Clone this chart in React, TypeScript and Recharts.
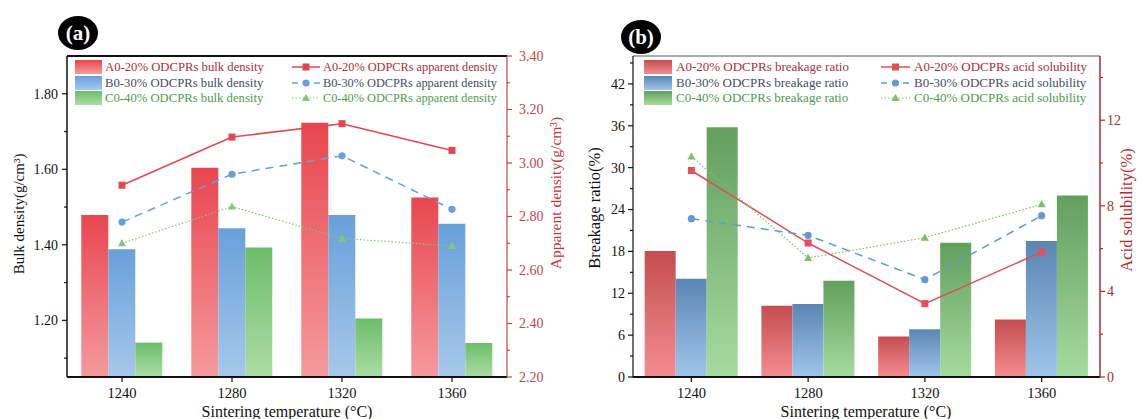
import React from 'react'
import { Bar, ComposedChart, Legend, Line, ReferenceLine, XAxis, YAxis } from 'recharts'

const temperatures = ['1240', '1280', '1320', '1360']

// (a) densities
const bulkA = [1.479, 1.604, 1.723, 1.525]
const bulkB = [1.388, 1.444, 1.479, 1.456]
const bulkC = [1.141, 1.393, 1.205, 1.14]
const apparentA = [2.917, 3.097, 3.147, 3.047]
const apparentB = [2.779, 2.958, 3.027, 2.827]
const apparentC = [2.7, 2.837, 2.718, 2.69]

// (b) breakage / acid solubility
const breakageA = [18.05, 10.2, 5.8, 8.25]
const breakageB = [14.07, 10.46, 6.86, 19.5]
const breakageC = [35.8, 13.8, 19.25, 26.0]
const acidA = [9.65, 6.26, 3.43, 5.84]
const acidB = [7.4, 6.62, 4.55, 7.54]
const acidC = [10.3, 5.56, 6.51, 8.07]

const bulkTicks = [1.1, 1.2, 1.3, 1.4, 1.5, 1.6, 1.7, 1.8]
const bulkLabels = [1.2, 1.4, 1.6, 1.8]
const apparentTicks = [2.2, 2.3, 2.4, 2.5, 2.6, 2.7, 2.8, 2.9, 3.0, 3.1, 3.2, 3.3, 3.4]
const apparentLabels = [2.2, 2.4, 2.6, 2.8, 3.0, 3.2, 3.4]
const breakageTicks = [0, 3, 6, 9, 12, 15, 18, 21, 24, 27, 30, 33, 36, 39, 42, 45]
const breakageLabels = [0, 6, 12, 18, 24, 30, 36, 42]
const acidTicks = [0, 2, 4, 6, 8, 10, 12, 14]
const acidLabels = [0, 4, 8, 12]

const legendBarsA = ['A0-20% ODCPRs bulk density', 'B0-30% ODCPRs bulk density', 'C0-40% ODCPRs bulk density']
const legendLinesA = ['A0-20% ODPCRs apparent density', 'B0-30% ODCPRs apparent density', 'C0-40% ODCPRs apparent density']
const legendBarsB = ['A0-20% ODCPRs breakage ratio', 'B0-30% ODCPRs breakage ratio', 'C0-40% ODCPRs breakage ratio']
const legendLinesB = ['A0-20% ODCPRs acid solubility', 'B0-30% ODCPRs acid solubility', 'C0-40% ODCPRs acid solubility']

const tableA = temperatures.map((t, i) => ({
    t,
    bulkA: bulkA[i],
    bulkB: bulkB[i],
    bulkC: bulkC[i],
    apparentA: apparentA[i],
    apparentB: apparentB[i],
    apparentC: apparentC[i]
}))

const tableB = temperatures.map((t, i) => ({
    t,
    breakageA: breakageA[i],
    breakageB: breakageB[i],
    breakageC: breakageC[i],
    acidA: acidA[i],
    acidB: acidB[i],
    acidC: acidC[i]
}))

const FONT = '"Liberation Serif", "Times New Roman", serif'
const TEXT_RED = '#a8303a'
const TEXT_BLUE = '#3f4d68'
const TEXT_GREEN = '#4f9a4f'

const makeTick =
    (labels: number[], side: 'left' | 'right', color: string, digits: number, gap: number) =>
    (props: any) => {
        const { x, y, payload } = props
        const isMajor = labels.some((m) => Math.abs(m - payload.value) < 1e-6)
        const dir = side === 'left' ? -1 : 1
        const len = isMajor ? 5 : 3
        return (
            <g>
                <line x1={x} x2={x + dir * len} y1={y} y2={y} stroke={color} strokeWidth={1.2} />
                {isMajor && (
                    <text
                        x={x + dir * gap}
                        y={y}
                        dy={'0.35em'}
                        textAnchor={side === 'left' ? 'end' : 'start'}
                        fill={color}
                        fontSize={14}
                        fontFamily={FONT}
                    >
                        {payload.value.toFixed(digits)}
                    </text>
                )}
            </g>
        )
    }

const vLabel = (text: string, cx: number, cy: number, color: string, size: number) => () => (
    <text
        x={cx}
        y={cy}
        transform={`rotate(-90, ${cx}, ${cy})`}
        textAnchor={'middle'}
        dominantBaseline={'central'}
        fill={color}
        fontSize={size}
        fontFamily={FONT}
    >
        {text}
    </text>
)

const xLabel = (cx: number) => () => (
    <text x={cx} y={411} textAnchor={'middle'} dominantBaseline={'central'} fill={'#111'} fontSize={16} fontFamily={FONT}>
        Sintering temperature (°C)
    </text>
)

const squareDot = (color: string) => (props: any) => (
    <rect key={`sq-${props.index}`} x={props.cx - 3.5} y={props.cy - 3.5} width={7} height={7} fill={color} />
)
const circleDot = (color: string) => (props: any) => (
    <circle key={`ci-${props.index}`} cx={props.cx} cy={props.cy} r={3.6} fill={color} />
)
const triangleDot = (color: string) => (props: any) => (
    <path
        key={`tr-${props.index}`}
        d={`M${props.cx},${props.cy - 4.2} L${props.cx + 4},${props.cy + 3} L${props.cx - 4},${props.cy + 3} Z`}
        fill={color}
    />
)

const Gradient = ({ id, top, bottom }: { id: string; top: string; bottom: string }) => (
    <linearGradient id={id} x1={0} y1={0} x2={0} y2={1}>
        <stop offset={'0%'} stopColor={top} />
        <stop offset={'100%'} stopColor={bottom} />
    </linearGradient>
)

interface LineItem {
    label: string
    color: string
    dash?: string
    width: number
    marker: 'square' | 'circle' | 'triangle'
    text: string
}

interface LegendBoxProps {
    bars: { label: string; fill: string; text: string }[]
    lines: LineItem[]
    swatchX: number
    swatchW: number
    barTextX: number
    lineX1: number
    lineX2: number
    lineTextX: number
    rows: number[]
    barFont: number
    lineFont: number
}

const Marker = ({ kind, x, y, color }: { kind: string; x: number; y: number; color: string }) => {
    if (kind === 'square') return <rect x={x - 3.5} y={y - 3.5} width={7} height={7} fill={color} />
    if (kind === 'circle') return <circle cx={x} cy={y} r={3.6} fill={color} />
    return <path d={`M${x},${y - 4.2} L${x + 4},${y + 3} L${x - 4},${y + 3} Z`} fill={color} />
}

const LegendBox: React.FC<LegendBoxProps> = (p) => (
    <div style={{ position: 'absolute', left: 0, top: 0, fontFamily: FONT }}>
        {p.bars.map((b, i) => (
            <React.Fragment key={b.label}>
                <svg style={{ position: 'absolute', left: p.swatchX, top: p.rows[i] - 7 }} width={p.swatchW} height={14}>
                    <rect x={0} y={0} width={p.swatchW} height={14} fill={b.fill} />
                </svg>
                <span
                    style={{
                        position: 'absolute',
                        left: p.barTextX,
                        top: p.rows[i] - 8,
                        lineHeight: '16px',
                        fontSize: p.barFont,
                        whiteSpace: 'nowrap',
                        color: b.text
                    }}
                >
                    {b.label}
                </span>
            </React.Fragment>
        ))}
        {p.lines.map((l, i) => (
            <React.Fragment key={l.label}>
                <svg
                    style={{ position: 'absolute', left: p.lineX1, top: p.rows[i] - 7 }}
                    width={p.lineX2 - p.lineX1}
                    height={14}
                >
                    <line
                        x1={0}
                        x2={p.lineX2 - p.lineX1}
                        y1={7}
                        y2={7}
                        stroke={l.color}
                        strokeWidth={l.width}
                        strokeDasharray={l.dash}
                    />
                    <Marker kind={l.marker} x={(p.lineX2 - p.lineX1) / 2} y={7} color={l.color} />
                </svg>
                <span
                    style={{
                        position: 'absolute',
                        left: p.lineTextX,
                        top: p.rows[i] - 8,
                        lineHeight: '16px',
                        fontSize: p.lineFont,
                        whiteSpace: 'nowrap',
                        color: l.text
                    }}
                >
                    {l.label}
                </span>
            </React.Fragment>
        ))}
    </div>
)

const Badge = ({ x, y, text }: { x: number; y: number; text: string }) => (
    <svg style={{ position: 'absolute', left: x - 21, top: y - 18 }} width={42} height={36}>
        <ellipse cx={21} cy={18} rx={20} ry={17} fill={'#000'} />
        <text
            x={21}
            y={18}
            textAnchor={'middle'}
            dominantBaseline={'central'}
            fill={'#fff'}
            fontSize={21}
            fontWeight={'bold'}
            fontFamily={FONT}
        >
            {text}
        </text>
    </svg>
)

const redA = '#e2474f'
const blueA = '#67a1d6'
const greenA = '#86c67a'
const redB = '#d9534f'
const blueB = '#5f9bd1'
const greenB = '#7cc06c'

const legendA: LegendBoxProps = {
    bars: [
        { label: legendBarsA[0], fill: 'url(#aRed)', text: TEXT_RED },
        { label: legendBarsA[1], fill: 'url(#aBlue)', text: TEXT_BLUE },
        { label: legendBarsA[2], fill: 'url(#aGreen)', text: TEXT_GREEN }
    ],
    lines: [
        { label: legendLinesA[0], color: redA, width: 1.5, marker: 'square', text: TEXT_RED },
        { label: legendLinesA[1], color: blueA, width: 1.5, dash: '6 5', marker: 'circle', text: TEXT_BLUE },
        { label: legendLinesA[2], color: greenA, width: 1.2, dash: '1.5 2', marker: 'triangle', text: TEXT_GREEN }
    ],
    swatchX: 75,
    swatchW: 27,
    barTextX: 105,
    lineX1: 292,
    lineX2: 320,
    lineTextX: 323,
    rows: [67, 82.5, 98],
    barFont: 12.7,
    lineFont: 12.3
}

const legendB: LegendBoxProps = {
    bars: [
        { label: legendBarsB[0], fill: 'url(#bRed)', text: TEXT_RED },
        { label: legendBarsB[1], fill: 'url(#bBlue)', text: TEXT_BLUE },
        { label: legendBarsB[2], fill: 'url(#bGreen)', text: TEXT_GREEN }
    ],
    lines: [
        { label: legendLinesB[0], color: redB, width: 1.5, marker: 'square', text: TEXT_RED },
        { label: legendLinesB[1], color: blueB, width: 1.5, dash: '6 5', marker: 'circle', text: TEXT_BLUE },
        { label: legendLinesB[2], color: greenB, width: 1.2, dash: '1.5 2', marker: 'triangle', text: TEXT_GREEN }
    ],
    swatchX: 74,
    swatchW: 28,
    barTextX: 106,
    lineX1: 311,
    lineX2: 340,
    lineTextX: 344,
    rows: [67, 82.5, 98],
    barFont: 13,
    lineFont: 13
}

const legendLayout = { layout: 'vertical' as const, align: 'center' as const, verticalAlign: 'middle' as const }

const DensityChart = () => (
    <ComposedChart
        width={570}
        height={419}
        data={tableA}
        margin={{ top: 56, right: 0, bottom: 0, left: 0 }}
        barGap={0}
        barCategoryGap={'13%'}
    >
        <defs>
            <Gradient id={'aRed'} top={'#e9464f'} bottom={'#f59a9c'} />
            <Gradient id={'aBlue'} top={'#68a0da'} bottom={'#a6c8ea'} />
            <Gradient id={'aGreen'} top={'#6cbd6a'} bottom={'#acdda4'} />
        </defs>
        <XAxis
            dataKey={'t'}
            height={42}
            tickSize={5}
            tickMargin={6}
            tick={{ fill: '#111', fontSize: 14.5, fontFamily: FONT }}
            tickLine={{ stroke: '#111', strokeWidth: 1.2 }}
            axisLine={{ stroke: '#111', strokeWidth: 2 }}
            label={{ content: xLabel(287) }}
        />
        <YAxis
            yAxisId={'left'}
            width={67}
            type={'number'}
            domain={[1.05, 1.9]}
            allowDataOverflow={true}
            ticks={bulkTicks}
            interval={0}
            tickSize={0}
            tickMargin={0}
            tickLine={false}
            tick={makeTick(bulkLabels, 'left', '#111', 2, 9)}
            axisLine={{ stroke: '#111', strokeWidth: 1.5 }}
            label={{ content: vLabel('Bulk density(g/cm³)', 19, 214, '#111', 15) }}
        />
        <YAxis
            yAxisId={'right'}
            orientation={'right'}
            width={63}
            type={'number'}
            domain={[2.2, 3.4]}
            allowDataOverflow={true}
            ticks={apparentTicks}
            interval={0}
            tickSize={0}
            tickMargin={0}
            tickLine={false}
            tick={makeTick(apparentLabels, 'right', '#c0464c', 2, 12)}
            axisLine={{ stroke: '#b8474d', strokeWidth: 1.2 }}
            label={{ content: vLabel('Apparent density(g/cm³)', 555, 193, '#c0393f', 15.5) }}
        />
        <ReferenceLine yAxisId={'left'} y={1.9} stroke={'#111'} strokeWidth={2} />
        <Bar yAxisId={'left'} dataKey={'bulkA'} fill={'url(#aRed)'} isAnimationActive={false} />
        <Bar yAxisId={'left'} dataKey={'bulkB'} fill={'url(#aBlue)'} isAnimationActive={false} />
        <Bar yAxisId={'left'} dataKey={'bulkC'} fill={'url(#aGreen)'} isAnimationActive={false} />
        <Line
            yAxisId={'right'}
            dataKey={'apparentA'}
            stroke={redA}
            strokeWidth={1.5}
            dot={squareDot(redA)}
            isAnimationActive={false}
        />
        <Line
            yAxisId={'right'}
            dataKey={'apparentB'}
            stroke={blueA}
            strokeWidth={1.5}
            strokeDasharray={'8 6'}
            dot={circleDot(blueA)}
            isAnimationActive={false}
        />
        <Line
            yAxisId={'right'}
            dataKey={'apparentC'}
            stroke={greenA}
            strokeWidth={1.2}
            strokeDasharray={'1.5 2'}
            dot={triangleDot(greenA)}
            isAnimationActive={false}
        />
        <Legend
            {...legendLayout}
            wrapperStyle={{ left: 0, top: 0, width: 570, height: 120, pointerEvents: 'none' }}
            content={() => <LegendBox {...legendA} />}
        />
    </ComposedChart>
)

const BreakageChart = () => (
    <ComposedChart
        width={571}
        height={419}
        data={tableB}
        margin={{ top: 56, right: 0, bottom: 0, left: 0 }}
        barGap={0}
        barCategoryGap={'10%'}
    >
        <defs>
            <Gradient id={'bRed'} top={'#c44d4f'} bottom={'#f48d90'} />
            <Gradient id={'bBlue'} top={'#5a86b4'} bottom={'#a0c5ea'} />
            <Gradient id={'bGreen'} top={'#61a05d'} bottom={'#a6dba0'} />
        </defs>
        <XAxis
            dataKey={'t'}
            height={42}
            tickSize={5}
            tickMargin={6}
            tick={{ fill: '#111', fontSize: 14.5, fontFamily: FONT }}
            tickLine={{ stroke: '#111', strokeWidth: 1.2 }}
            axisLine={{ stroke: '#111', strokeWidth: 2 }}
            label={{ content: xLabel(296) }}
        />
        <YAxis
            yAxisId={'left'}
            width={63}
            type={'number'}
            domain={[0, 46]}
            allowDataOverflow={true}
            ticks={breakageTicks}
            interval={0}
            tickSize={0}
            tickMargin={0}
            tickLine={false}
            tick={makeTick(breakageLabels, 'left', '#111', 0, 8)}
            axisLine={{ stroke: '#111', strokeWidth: 1.2 }}
            label={{ content: vLabel('Breakage ratio(%)', 24, 208, '#111', 16.5) }}
        />
        <YAxis
            yAxisId={'right'}
            orientation={'right'}
            width={41}
            type={'number'}
            domain={[0, 15]}
            allowDataOverflow={true}
            ticks={acidTicks}
            interval={0}
            tickSize={0}
            tickMargin={0}
            tickLine={false}
            tick={makeTick(acidLabels, 'right', '#a8302f', 0, 7)}
            axisLine={{ stroke: '#a8302f', strokeWidth: 1.5 }}
            label={{ content: vLabel('Acid solubility(%)', 556, 210, '#b22e2e', 16.5) }}
        />
        <ReferenceLine yAxisId={'left'} y={46} stroke={'#555'} strokeWidth={1} />
        <Bar yAxisId={'left'} dataKey={'breakageA'} fill={'url(#bRed)'} isAnimationActive={false} />
        <Bar yAxisId={'left'} dataKey={'breakageB'} fill={'url(#bBlue)'} isAnimationActive={false} />
        <Bar yAxisId={'left'} dataKey={'breakageC'} fill={'url(#bGreen)'} isAnimationActive={false} />
        <Line
            yAxisId={'right'}
            dataKey={'acidA'}
            stroke={redB}
            strokeWidth={1.5}
            dot={squareDot('#e64f58')}
            isAnimationActive={false}
        />
        <Line
            yAxisId={'right'}
            dataKey={'acidB'}
            stroke={blueB}
            strokeWidth={1.5}
            strokeDasharray={'8 6'}
            dot={circleDot(blueB)}
            isAnimationActive={false}
        />
        <Line
            yAxisId={'right'}
            dataKey={'acidC'}
            stroke={greenB}
            strokeWidth={1.2}
            strokeDasharray={'1.5 2'}
            dot={triangleDot(greenB)}
            isAnimationActive={false}
        />
        <Legend
            {...legendLayout}
            wrapperStyle={{ left: 0, top: 0, width: 571, height: 120, pointerEvents: 'none' }}
            content={() => <LegendBox {...legendB} />}
        />
    </ComposedChart>
)

const App = () => (
    <div
        style={{
            position: 'absolute',
            left: 0,
            top: 0,
            width: 1141,
            height: 419,
            background: '#fff',
            overflow: 'hidden',
            fontFamily: FONT
        }}
    >
        <div style={{ position: 'absolute', left: 0, top: 0 }}>
            <DensityChart />
        </div>
        <div style={{ position: 'absolute', left: 570, top: 0 }}>
            <BreakageChart />
        </div>
        <Badge x={78} y={33} text={'(a)'} />
        <Badge x={641} y={37} text={'(b)'} />
    </div>
)

export default App
